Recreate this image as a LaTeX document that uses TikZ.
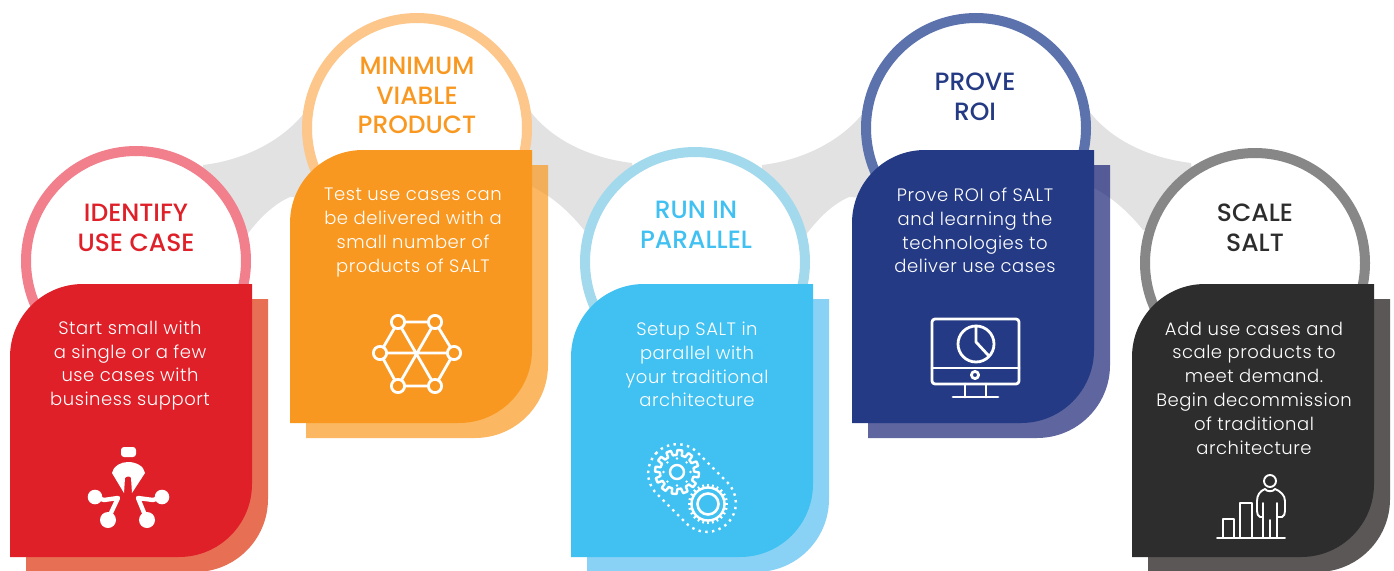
\documentclass[tikz,border=0pt]{standalone}
\usepackage{fontspec}
\setmainfont{Poppins}
\newfontfamily\titlefont{Poppins Medium}
\newfontfamily\bodyfont[LetterSpace=3]{Poppins Light}
\definecolor{link}{HTML}{E2E2E2}
\definecolor{cRed}{HTML}{DF2029}\definecolor{sRed}{HTML}{DD330C}\definecolor{rRed}{HTML}{F17F8C}
\definecolor{cOrg}{HTML}{F99820}\definecolor{sOrg}{HTML}{F99820}\definecolor{rOrg}{HTML}{FDC78B}
\definecolor{cBlu}{HTML}{40C1F2}\definecolor{sBlu}{HTML}{58BFF1}\definecolor{rBlu}{HTML}{A3D9EC}
\definecolor{cNav}{HTML}{243A84}\definecolor{sNav}{HTML}{192376}\definecolor{rNav}{HTML}{5C72AD}
\definecolor{cDrk}{HTML}{2D2D2D}\definecolor{sDrk}{HTML}{150F0E}\definecolor{rDrk}{HTML}{878787}
\tikzset{
  x=1pt,y=-1pt,
  ringnode/.style={circle,fill=white,line width=10pt,minimum size=220pt,inner sep=0pt},
  titletext/.style={align=center,font=\titlefont\fontsize{25}{29.7}\selectfont},
  bodytext/.style={align=center,text=white,font=\bodyfont\fontsize{18}{23.8}\selectfont},
  icon/.style={draw=white,line width=2.8pt,line cap=round,line join=round},
}
\newcommand{\cardshape}[2]{% top-left corner x,y
  (#1,#2+273) -- (#1,#2+73) arc[start angle=180,end angle=90,radius=73pt]
  -- (#1+242,#2) -- (#1+242,#2+200) arc[start angle=0,end angle=-90,radius=73pt] -- cycle}
\newcommand{\linkshape}[1]{% x offset
  \fill[link] (203+#1,165) .. controls (245+#1,160) and (285+#1,140) .. (308+#1,108)
    -- (340+#1,200) -- (290+#1,197) .. controls (272+#1,205) and (258+#1,220) .. (246+#1,236) -- (200+#1,200) -- cycle;}
\newcommand{\linkshapeR}[1]{%
  \fill[link] (530+#1,111) .. controls (552+#1,140) and (590+#1,158) .. (632+#1,163)
    -- (640+#1,220) -- (584+#1,230) .. controls (572+#1,215) and (555+#1,198) .. (533+#1,187) -- (500+#1,150) -- cycle;}
\begin{document}
\begin{tikzpicture}
\useasboundingbox (0,0) rectangle (1394,570);
\linkshape{0}\linkshapeR{0}\linkshape{559}\linkshapeR{559}
% rings
\node[ringnode,draw=rRed] (ring1) at (136,261) {};
\node[ringnode,draw=rOrg] (ring2) at (417,128) {};
\node[ringnode,draw=rBlu] (ring3) at (695,262) {};
\node[ringnode,draw=rNav] (ring4) at (976,128) {};
\node[ringnode,draw=rDrk] (ring5) at (1255,263) {};
% cards
\fill[sRed,opacity=.7] \cardshape{26}{299};
\fill[cRed] \cardshape{10}{284};
\fill[sOrg,opacity=.7] \cardshape{306}{165};
\fill[cOrg] \cardshape{290}{150};
\fill[sBlu,opacity=.7] \cardshape{587}{299};
\fill[cBlu] \cardshape{571}{284};
\fill[sNav,opacity=.7] \cardshape{868}{165};
\fill[cNav] \cardshape{852}{150};
\fill[sDrk,opacity=.7] \cardshape{1148}{299};
\fill[cDrk] \cardshape{1132}{284};
% titles
\node[titletext,text=cRed] (title1) at (136,228) {IDENTIFY\\USE CASE};
\node[titletext,text=cOrg] (title2) at (417,95.5) {MINIMUM\\VIABLE\\PRODUCT};
\node[titletext,text=cBlu] (title3) at (696,225) {RUN IN\\PARALLEL};
\node[titletext,text=cNav] (title4) at (975,97) {PROVE\\ROI};
\node[titletext,text=cDrk] (title5) at (1255,228) {SCALE\\SALT};
% bodies
\node[bodytext] (body1) at (130,365.5) {Start small with\\a single or a few\\use cases with\\business support};
\node[bodytext] (body2) at (413,232.5) {Test use cases can\\be delivered with a\\small number of\\products of SALT};
\node[bodytext] (body3) at (697,364.5) {Setup SALT in\\parallel with\\your traditional\\architecture};
\node[bodytext] (body4) at (975,230.5) {Prove ROI of SALT\\and learning the\\technologies to\\deliver use cases};
\node[bodytext] (body5) at (1254,388) {Add use cases and\\scale products to\\meet demand.\\Begin decommission\\of traditional\\architecture};
% icon 1
\fill[white,rounded corners=3pt] (121,447) rectangle (136,457);
\fill[white] (124,493) -- (112,473) .. controls (113,466) and (121,462) .. (128,462) .. controls (136,462) and (144,466) .. (145,473) -- (132,493) -- (131,478) .. controls (131,476) and (126,476) .. (125,478) -- cycle;
\fill[white] (95,497) circle[radius=7.3pt] (162,497) circle[radius=7.3pt] (108,520) circle[radius=8pt] (147,520) circle[radius=8pt];
\draw[white,line width=4.4pt,line join=round] (95,497) -- (104,500) -- (118,498) -- (110,515);
\draw[white,line width=4.4pt,line join=round] (162,497) -- (153,500) -- (138,498) -- (145,515);
% icon 2
\draw[icon] (398,322)--(435,322)--(454,353)--(435,386)--(398,386)--(380,353)--cycle;
\draw[icon] (380,353)--(454,353) (398,322)--(435,386) (435,322)--(398,386);
\foreach \p in {(398,322),(435,322),(380,353),(454,353),(398,386),(435,386)}
  \draw[icon,fill=cOrg] \p circle[radius=6.6pt];
% icon 3
\draw[icon,line width=2.4pt] plot[domain=0:360,samples=289] ({677+(19.5+2.5*min(1,max(-1,4*sin(12*\x))))*cos(\x)},{472+(19.5+2.5*min(1,max(-1,4*sin(12*\x))))*sin(\x)}) -- cycle;
\draw[icon,line width=2.4pt] (677,472) circle[radius=7pt];
\foreach \a in {0,45,...,315}
  \fill[white] (677,472) ++(\a:13.5pt) circle[radius=1.3pt];
\draw[icon,fill=cBlu,line width=2.4pt] (708,504) circle[radius=16.5pt];
\foreach \a in {0,15,...,345}
  \draw[white,line width=1.8pt] (708,504) ++(\a:16.5pt) -- ++(\a:3.5pt);
\draw[icon,line width=2.6pt] (708,504) circle[radius=10.5pt];
\begin{scope}[shift={(692,488)},rotate=-45]
  \draw[white,line width=2.4pt,dash pattern=on 2.4pt off 4.4pt,rounded corners=28.9pt] (-50,-29) rectangle (50,29);
\end{scope}
% icon 4
\draw[icon,rounded corners=3pt] (932,319) rectangle (1019,384);
\draw[icon] (932,368) -- (1019,368);
\draw[icon] (976,344) circle[radius=18pt];
\draw[icon] (976,326) -- (976,342) -- (988,355);
\draw[icon] (975,375) circle[radius=3.6pt];
\draw[icon] (965,384) -- (965,397) (986,384) -- (986,397) (953,397) -- (998,397);
% icon 5
\begin{scope}[icon/.append style={line width=1.9pt}]
\draw[icon] (1217,538) -- (1285,538);
\draw[icon] (1223,538) -- (1223,519) -- (1234,519) -- (1234,538);
\draw[icon] (1240,538) -- (1240,503) -- (1252,503) -- (1252,538);
\draw[icon] (1270,481) circle[radius=6pt];
\draw[icon] (1263,503) -- (1263,538) (1277,503) -- (1277,538) (1270,520) -- (1270,538);
\draw[icon] (1263,517) -- (1260,517) .. controls (1258,516) and (1257,514) .. (1257,511) -- (1257,501) .. controls (1257,495) and (1260,491) .. (1265,489) .. controls (1267,492) and (1273,492) .. (1275,489) .. controls (1280,491) and (1285,495) .. (1285,501) -- (1285,511) .. controls (1285,514) and (1284,516) .. (1282,517) -- (1277,517);
\end{scope}
\end{tikzpicture}
\end{document}
